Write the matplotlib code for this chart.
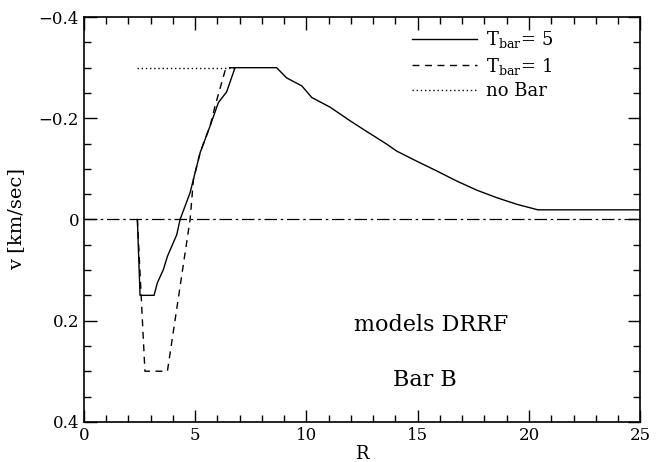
import matplotlib.pyplot as plt
from matplotlib.ticker import MultipleLocator

# solid: T_bar = 5
r_t5 = [2.4, 2.52, 3.15, 3.3, 3.57, 3.75, 4.17, 4.32, 4.77, 5.22, 5.67, 6.04,
        6.41, 6.79, 8.66, 9.1, 9.79, 10.24, 11.06, 11.96, 12.56, 13.6, 14.06,
        14.96, 15.85, 16.75, 17.65, 18.55, 19.45, 20.4, 25.0]
v_t5 = [0.0, 0.15, 0.15, 0.125, 0.099, 0.073, 0.03, 0.0, -0.053, -0.132, -0.185,
        -0.231, -0.252, -0.30, -0.30, -0.28, -0.264, -0.241, -0.222, -0.195,
        -0.178, -0.149, -0.135, -0.115, -0.096, -0.076, -0.058, -0.043, -0.030,
        -0.019, -0.019]

# dashed: T_bar = 1
r_t1 = [2.4, 2.74, 3.75, 4.77, 4.92, 5.22, 5.67, 5.89, 6.38, 6.8]
v_t1 = [0.0, 0.30, 0.30, 0.0, -0.079, -0.132, -0.185, -0.224, -0.30, -0.30]

# dotted: no bar
r_nobar = [2.4, 6.8]
v_nobar = [-0.30, -0.30]

plt.rcParams["font.family"] = ["DejaVu Serif"]
plt.rcParams["mathtext.fontset"] = "dejavuserif"

fig = plt.figure(figsize=(6.56, 4.62), dpi=100)
ax = fig.add_axes([0.128, 0.087, 0.848, 0.876])

ax.plot(r_t5, v_t5, color="black", lw=1.0, ls="-", label=r"T$_{\rm bar}$= 5")
ax.plot(r_t1, v_t1, color="black", lw=1.0, ls=(0, (5, 4)), label=r"T$_{\rm bar}$= 1")
ax.plot(r_nobar, v_nobar, color="black", lw=1.0, ls=(0, (1, 2)), label="no Bar")
ax.axhline(0, color="black", lw=0.9, ls=(0, (10, 3, 2, 3)))

ax.set_xlim(0, 25)
ax.set_ylim(0.4, -0.4)
ax.xaxis.set_major_locator(MultipleLocator(5))
ax.xaxis.set_minor_locator(MultipleLocator(1))
ax.yaxis.set_major_locator(MultipleLocator(0.2))
ax.yaxis.set_minor_locator(MultipleLocator(0.05))
ax.yaxis.set_major_formatter(plt.FuncFormatter(
    lambda v, p: "0" if abs(v) < 1e-9 else f"{v:.1f}".replace("-", "\u2212")))
ax.tick_params(which="both", direction="in", top=True, right=True, labelsize=12)
ax.tick_params(which="major", length=9, width=1)
ax.tick_params(which="minor", length=5, width=1)
for s in ax.spines.values():
    s.set_linewidth(1.2)

ax.set_xlabel("R", fontsize=13, labelpad=1)
ax.set_ylabel("v [km/sec]", fontsize=14, labelpad=10)

ax.text(15.6, 0.208, "models DRRF", fontsize=16, ha="center", va="center")
ax.text(15.3, 0.317, "Bar B", fontsize=16, ha="center", va="center")

ax.legend(loc="upper left", bbox_to_anchor=(0.59, 0.97), frameon=False,
          fontsize=13, handlelength=3.6, handletextpad=0.5, labelspacing=0.3,
          borderpad=0, borderaxespad=0)

fig.savefig("out.png", dpi=100)
